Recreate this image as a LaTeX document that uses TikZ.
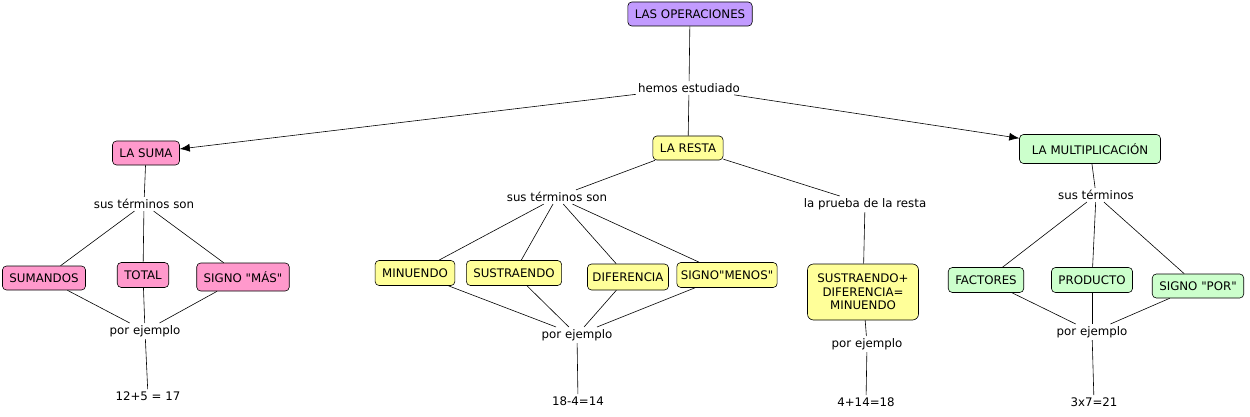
\documentclass[tikz,border=0pt]{standalone}
\usepackage{fontspec}
\setmainfont{DejaVu Sans}[Ligatures=TeXOff]
\usetikzlibrary{arrows.meta}
\definecolor{lila}{HTML}{C29BFF}
\definecolor{rosa}{HTML}{FF99CC}
\definecolor{amarillo}{HTML}{FFFF99}
\definecolor{verde}{HTML}{CCFFCC}
\tikzset{
  concepto/.style={draw, rounded corners=4pt, line width=0.6pt, inner xsep=7pt,
    minimum height=24pt, align=center, font=\fontsize{11.8}{13.5}\selectfont},
  enlace/.style={inner sep=2pt, font=\fontsize{11.8}{13.5}\selectfont},
  flecha/.style={-{Latex[length=10pt,width=8pt]}}
}
\begin{document}
\begin{tikzpicture}[x=1pt, y=-1pt, line width=0.6pt]
      \useasboundingbox (0,0) rectangle (1250,417);
      %% raiz
      \node [concepto, fill=lila] (ops) at (690, 14) {LAS OPERACIONES};
      \node [enlace] (hemos) at (689, 88) {hemos estudiado};
      \node [concepto, fill=rosa] (suma) at (146, 153) {LA SUMA};
      \node [concepto, fill=amarillo] (resta) at (688, 148) {LA RESTA};
      \node [concepto, fill=verde, minimum width=141pt, minimum height=29pt] (mult) at (1090, 149) {LA MULTIPLICACIÓN};
      %% suma
      \node [enlace] (sumsus) at (144, 204) {sus términos son};
      \node [concepto, fill=rosa] (sumandos) at (44, 278) {SUMANDOS};
      \node [concepto, fill=rosa, minimum height=25pt] (total) at (143, 275) {TOTAL};
      \node [concepto, fill=rosa, minimum height=28pt] (mas) at (243, 277) {SIGNO "MÁS"};
      \node [enlace] (sumej) at (145, 331) {por ejemplo};
      \node [enlace] (sumres) at (148, 396) {12+5 = 17};
      %% resta
      \node [enlace] (ressus) at (557, 197) {sus términos son};
      \node [enlace] (prueba) at (865, 204) {la prueba de la resta};
      \node [concepto, fill=amarillo, minimum height=25pt] (minuendo) at (415, 273) {MINUENDO};
      \node [concepto, fill=amarillo, minimum height=25pt] (sustraendo) at (514, 273) {SUSTRAENDO};
      \node [concepto, fill=amarillo, minimum height=26pt, inner xsep=5pt] (diferencia) at (628, 277) {DIFERENCIA};
      \node [concepto, fill=amarillo, minimum height=25pt, inner xsep=4pt] (menos) at (727, 275) {SIGNO"MENOS"};
      \node [concepto, fill=amarillo, rounded corners=6pt, minimum width=111pt, minimum height=56pt] (formula) at (863, 292) {SUSTRAENDO+\\DIFERENCIA=\\MINUENDO};
      \node [enlace] (resej) at (577, 335) {por ejemplo};
      \node [enlace] (resres) at (578, 401) {18-4=14};
      \node [enlace] (prej) at (867, 344) {por ejemplo};
      \node [enlace] (prres) at (866, 402) {4+14=18};
      %% multiplicacion
      \node [enlace] (mulsus) at (1096, 195) {sus términos};
      \node [concepto, fill=verde, minimum height=25pt] (factores) at (986, 280) {FACTORES};
      \node [concepto, fill=verde, minimum height=25pt] (producto) at (1092, 280) {PRODUCTO};
      \node [concepto, fill=verde] (por) at (1198, 286) {SIGNO "POR"};
      \node [enlace] (mulej) at (1092, 332) {por ejemplo};
      \node [enlace] (mulres) at (1094, 402) {3x7=21};
      %% conectores
      \draw (ops) -- (hemos);
      \draw [flecha] (hemos) -- (suma);
      \draw (hemos) -- (resta);
      \draw [flecha] (hemos) -- (mult);
      \draw (suma) -- (sumsus);
      \draw (sumsus) -- (sumandos);
      \draw (sumsus) -- (total);
      \draw (sumsus) -- (mas);
      \draw (sumandos) -- (sumej);
      \draw (total) -- (sumej);
      \draw (mas) -- (sumej);
      \draw (sumej) -- (sumres);
      \draw (resta) -- (ressus);
      \draw (resta) -- (prueba);
      \draw (ressus) -- (minuendo);
      \draw (ressus) -- (sustraendo);
      \draw (ressus) -- (diferencia);
      \draw (ressus) -- (menos);
      \draw (minuendo) -- (resej);
      \draw (sustraendo) -- (resej);
      \draw (diferencia) -- (resej);
      \draw (menos) -- (resej);
      \draw (resej) -- (resres);
      \draw (prueba) -- (formula);
      \draw (formula) -- (prej);
      \draw (prej) -- (prres);
      \draw (mult) -- (mulsus);
      \draw (mulsus) -- (factores);
      \draw (mulsus) -- (producto);
      \draw (mulsus) -- (por);
      \draw (factores) -- (mulej);
      \draw (producto) -- (mulej);
      \draw (por) -- (mulej);
      \draw (mulej) -- (mulres);
    \end{tikzpicture}
\end{document}
